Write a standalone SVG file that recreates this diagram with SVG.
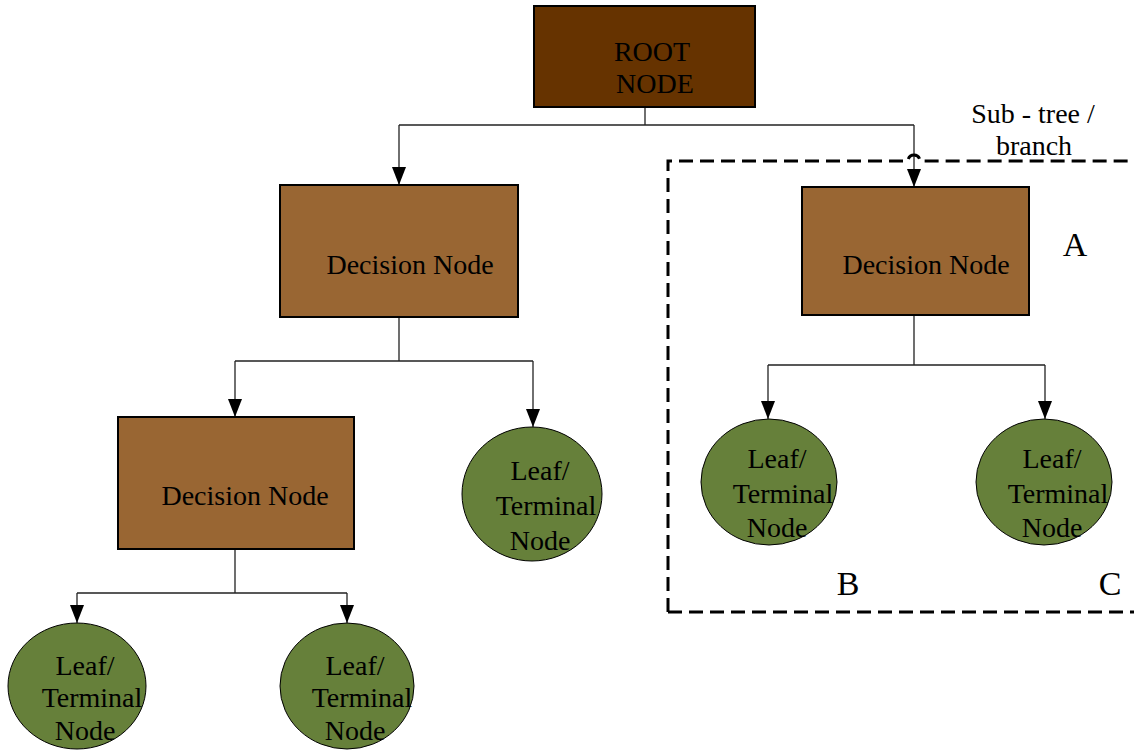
<svg xmlns="http://www.w3.org/2000/svg" width="1134" height="751" viewBox="0 0 1134 751">
<style>
.root{fill:#663300;stroke:#000;stroke-width:2}
.dec{fill:#996633;stroke:#000;stroke-width:2}
.leaf{fill:#66803a;stroke:#000;stroke-width:1}
text{font-family:'Liberation Serif','Times New Roman',Times,serif;font-size:28px;fill:#000;text-anchor:middle}
.big{font-size:34px}
.c{fill:none;stroke:#222;stroke-width:1.3}
.dash{fill:none;stroke:#000;stroke-width:3;stroke-dasharray:14,7}
</style>
<defs>
<marker id="arr" markerWidth="18" markerHeight="14" refX="18" refY="7" orient="auto" markerUnits="userSpaceOnUse" viewBox="0 0 18 14">
<path d="M0,0 L18,7 L0,14 Z" fill="#000"/>
</marker>
</defs>
<rect width="1134" height="751" fill="#fff"/>
<g id="connectors">
<path class="c" d="M645,107 V125"/>
<path class="c" d="M399,125 H914"/>
<path class="c" d="M399,125 V185" marker-end="url(#arr)"/>
<path class="c" d="M914,125 V187" marker-end="url(#arr)"/>
<path class="c" d="M399,317 V361 M235,361 H533"/>
<path class="c" d="M235,361 V417" marker-end="url(#arr)"/>
<path class="c" d="M533,361 V427" marker-end="url(#arr)"/>
<path class="c" d="M235,549 V593 M77,593 H347"/>
<path class="c" d="M77,593 V623" marker-end="url(#arr)"/>
<path class="c" d="M347,593 V623" marker-end="url(#arr)"/>
<path class="c" d="M914,315 V365 M768,365 H1045"/>
<path class="c" d="M768,365 V419" marker-end="url(#arr)"/>
<path class="c" d="M1045,365 V419" marker-end="url(#arr)"/>
</g>
<g id="subtree" font-family="Liberation Serif, serif">
<path class="dash" d="M668,612 V161 H908 A6,6 0 0 1 920,161 H1140 M668,612 H1140"/>
<text x="1033" y="123">Sub - tree /</text>
<text x="1034" y="155">branch</text>
<text class="big" x="1075" y="256">A</text>
<text class="big" x="848" y="595">B</text>
<text class="big" x="1110" y="595">C</text>
</g>
<g id="root">
<rect class="root" x="534" y="6" width="221" height="101"/>
<text x="652" y="61">ROOT</text>
<text x="655" y="93">NODE</text>
</g>
<g id="decision1">
<rect class="dec" x="280" y="185" width="238" height="132"/>
<text x="410" y="274">Decision Node</text>
</g>
<g id="decision2">
<rect class="dec" x="802" y="187" width="227" height="128"/>
<text x="926" y="274">Decision Node</text>
</g>
<g id="decision3">
<rect class="dec" x="118" y="417" width="236" height="132"/>
<text x="245" y="505">Decision Node</text>
</g>
<g id="leaf1">
<ellipse class="leaf" cx="77" cy="686" rx="69" ry="63"/>
<text x="85" y="675">Leaf/</text>
<text x="92" y="707">Terminal</text>
<text x="85" y="740">Node</text>
</g>
<g id="leaf2">
<ellipse class="leaf" cx="347" cy="686" rx="67" ry="63"/>
<text x="355" y="675">Leaf/</text>
<text x="362" y="707">Terminal</text>
<text x="355" y="740">Node</text>
</g>
<g id="leaf3">
<ellipse class="leaf" cx="532" cy="494" rx="70" ry="67"/>
<text x="540" y="480">Leaf/</text>
<text x="546" y="515">Terminal</text>
<text x="540" y="550">Node</text>
</g>
<g id="leaf4">
<ellipse class="leaf" cx="769" cy="482" rx="68" ry="63"/>
<text x="777" y="468">Leaf/</text>
<text x="783" y="503">Terminal</text>
<text x="777" y="537">Node</text>
</g>
<g id="leaf5">
<ellipse class="leaf" cx="1044" cy="482" rx="68" ry="63"/>
<text x="1052" y="468">Leaf/</text>
<text x="1058" y="503">Terminal</text>
<text x="1052" y="537">Node</text>
</g>
</svg>
